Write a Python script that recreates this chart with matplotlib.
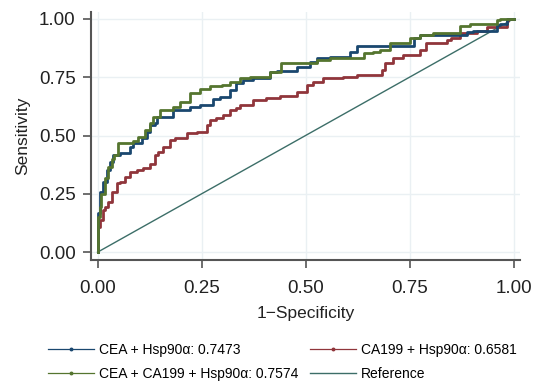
import matplotlib
matplotlib.use("Agg")
import matplotlib.pyplot as plt
from matplotlib.lines import Line2D

plt.rcParams['font.family'] = ['Liberation Sans', 'DejaVu Sans']

# ---- data ----
blue_fpr = [0, 0.002, 0.005, 0.013, 0.022, 0.030, 0.037, 0.054, 0.068, 0.078, 0.086, 0.106,
            0.118, 0.126, 0.138, 0.142, 0.182, 0.222, 0.246, 0.277, 0.294, 0.318, 0.334,
            0.350, 0.374, 0.415, 0.431, 0.479, 0.510, 0.527, 0.559, 0.607, 0.623, 0.655,
            0.760, 0.776, 0.888, 0.903, 0.960, 0.968, 0.984, 1.0]
blue_tpr = [0, 0.137, 0.170, 0.260, 0.300, 0.352, 0.388, 0.416, 0.425, 0.425, 0.452, 0.466,
            0.488, 0.516, 0.545, 0.552, 0.580, 0.610, 0.624, 0.631, 0.655, 0.664, 0.695,
            0.727, 0.738, 0.745, 0.774, 0.778, 0.793, 0.817, 0.831, 0.838, 0.860, 0.884,
            0.884, 0.917, 0.931, 0.945, 0.950, 0.974, 0.978, 1.0]

red_fpr = [0, 0.002, 0.006, 0.014, 0.018, 0.026, 0.034, 0.046, 0.054, 0.066, 0.078, 0.094,
           0.110, 0.126, 0.138, 0.146, 0.158, 0.174, 0.186, 0.214, 0.238, 0.262, 0.270,
           0.286, 0.302, 0.318, 0.334, 0.342, 0.374, 0.406, 0.438, 0.479, 0.503, 0.519,
           0.543, 0.591, 0.623, 0.655, 0.683, 0.690, 0.711, 0.735, 0.776, 0.790, 0.840,
           0.850, 0.872, 0.912, 0.936, 0.984, 0.987, 1.0]
red_tpr = [0, 0.059, 0.109, 0.137, 0.180, 0.194, 0.216, 0.259, 0.295, 0.300, 0.323, 0.345,
           0.352, 0.359, 0.380, 0.416, 0.430, 0.452, 0.480, 0.488, 0.509, 0.516, 0.545,
           0.567, 0.574, 0.588, 0.610, 0.617, 0.631, 0.652, 0.660, 0.670, 0.688, 0.717,
           0.731, 0.745, 0.752, 0.758, 0.760, 0.781, 0.810, 0.831, 0.845, 0.867, 0.896,
           0.910, 0.917, 0.938, 0.950, 0.967, 0.990, 1.0]

green_fpr = [0, 0.0, 0.006, 0.009, 0.017, 0.025, 0.034, 0.040, 0.050, 0.068, 0.085, 0.097,
             0.114, 0.126, 0.134, 0.150, 0.182, 0.198, 0.222, 0.246, 0.270, 0.300, 0.318,
             0.342, 0.366, 0.415, 0.440, 0.470, 0.527, 0.559, 0.640, 0.663, 0.680, 0.703,
             0.750, 0.776, 0.807, 0.872, 0.896, 0.960, 0.968, 1.0]
green_tpr = [0, 0.150, 0.150, 0.194, 0.250, 0.320, 0.366, 0.400, 0.416, 0.468, 0.468, 0.478,
             0.495, 0.524, 0.552, 0.580, 0.610, 0.624, 0.645, 0.681, 0.700, 0.712, 0.717,
             0.731, 0.745, 0.752, 0.774, 0.810, 0.810, 0.824, 0.833, 0.854, 0.860, 0.867,
             0.896, 0.917, 0.931, 0.939, 0.970, 0.977, 0.996, 1.0]

ref_x = [0, 1]
ref_y = [0, 1]

labels = ["CEA + Hsp90\u03b1: 0.7473", "CA199 + Hsp90\u03b1: 0.6581",
          "CEA + CA199 + Hsp90\u03b1: 0.7574", "Reference"]
ticks = [0.00, 0.25, 0.50, 0.75, 1.00]
tick_labels = ["0.00", "0.25", "0.50", "0.75", "1.00"]

c_blue = "#1a476f"
c_red = "#90353b"
c_green = "#55752f"
c_ref = "#3c6e68"

fig = plt.figure(figsize=(5.54, 3.82), dpi=100)
ax = fig.add_axes([0.164, 0.319, 0.775, 0.650])

ax.plot(ref_x, ref_y, color=c_ref, lw=1.0, zorder=2)
ax.plot(red_fpr, red_tpr, color=c_red, lw=2.0, drawstyle='steps-pre', zorder=3)
ax.plot(blue_fpr, blue_tpr, color=c_blue, lw=2.0, drawstyle='steps-pre', zorder=4)
ax.plot(green_fpr, green_tpr, color=c_green, lw=2.0, drawstyle='steps-pre', zorder=5)

ax.set_xlim(-0.016, 1.016)
ax.set_ylim(-0.034, 1.03)
ax.set_xticks(ticks)
ax.set_xticklabels(tick_labels)
ax.set_yticks(ticks)
ax.set_yticklabels(tick_labels)
ax.grid(True, color="#eaf0f3", lw=1.0, zorder=0)
ax.set_axisbelow(True)

for s in ['top', 'right']:
    ax.spines[s].set_visible(False)
for s in ['left', 'bottom']:
    ax.spines[s].set_color("#555555")
    ax.spines[s].set_linewidth(1.5)
ax.tick_params(axis='both', length=6, width=1.2, color="#555555",
               labelsize=13.5, labelcolor="#222222")
ax.tick_params(axis='x', pad=8)
ax.tick_params(axis='y', pad=5)
ax.set_xlabel("1\u2212Specificity", fontsize=12.5, color="#222222", labelpad=7)
ax.set_ylabel("Sensitivity", fontsize=12.5, color="#222222", labelpad=6)

handles = [
    Line2D([], [], color=c_blue, lw=0.9, marker='o', ms=1.8),
    Line2D([], [], color=c_green, lw=0.9, marker='o', ms=1.8),
    Line2D([], [], color=c_red, lw=0.9, marker='o', ms=1.8),
    Line2D([], [], color=c_ref, lw=1.0),
]
hl = [labels[0], labels[2], labels[1], labels[3]]
fig.legend(handles, hl, ncol=2, loc='center', bbox_to_anchor=(0.51, 0.052),
           frameon=False, fontsize=10, handlelength=3.3, columnspacing=0.8,
           handletextpad=0.4, labelspacing=0.75, numpoints=1, borderpad=0.0)

fig.savefig("out.png", dpi=100)
